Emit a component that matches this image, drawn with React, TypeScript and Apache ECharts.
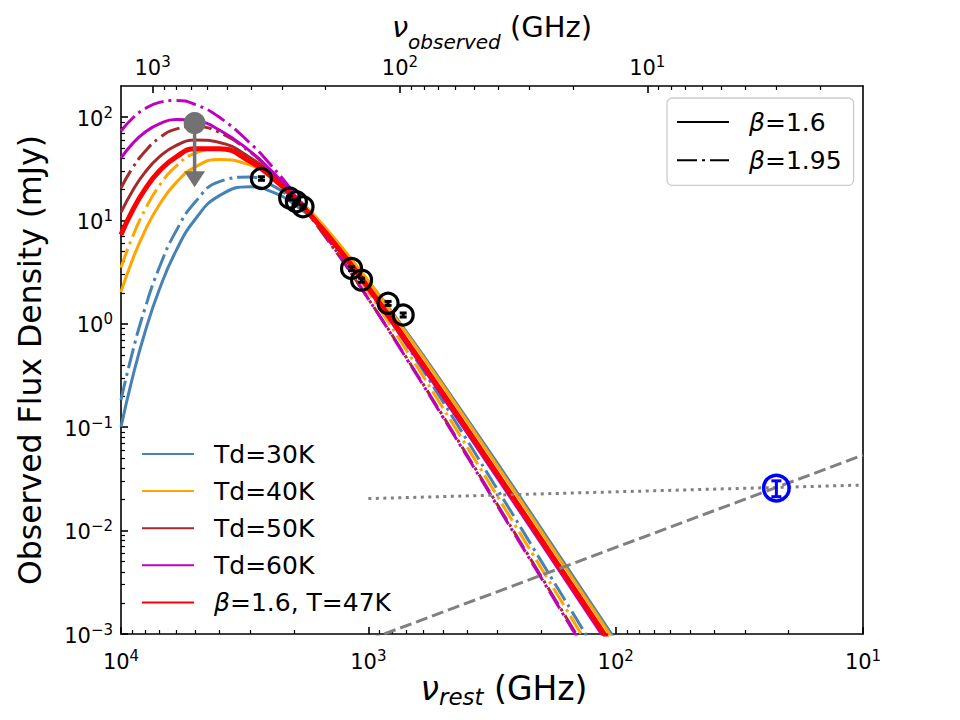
import React, { useEffect, useRef } from "react";
import * as echarts from "echarts";

const FONT = "DejaVu Sans";
const ONE_PLUS_Z = 7.45;

// rest-frame frequencies (GHz) at which the curves are read
const restFreq = [10000, 9000, 8000, 7000, 6000, 5000, 4000, 3000, 2500, 2000, 1500, 1000, 700, 500, 300, 200, 150, 100, 80];

// flux density (mJy) of each model curve at restFreq
const td30b160 = [0.1007, 0.2975, 0.83, 2.15, 5.05, 10.35, 17.4, 21.2, 19.3, 14.4, 7.91, 2.59, 0.83, 0.265, 0.0444, 0.01047, 0.00373, 0.000871, 0.00039];
const td30b195 = [0.183, 0.525, 1.41, 3.51, 7.85, 15.2, 23.8, 26.3, 22.5, 15.6, 7.76, 2.2, 0.624, 0.1775, 0.0248, 0.00507, 0.001637, 0.000331, 0.000137];
const td40b160 = [2.03, 4.14, 7.95, 14.2, 23.1, 33.0, 39.0, 34.3, 27.0, 17.6, 8.66, 2.6, 0.807, 0.2536, 0.0419, 0.00983, 0.0035, 0.000816, 0.000366];
const td40b195 = [3.5, 6.87, 12.7, 21.7, 33.4, 44.9, 49.1, 39.1, 28.8, 17.4, 7.74, 2.02, 0.553, 0.1545, 0.02131, 0.00434, 0.0014, 0.000283, 0.0001175];
const td50b160 = [11.97, 19.2, 29.2, 41.2, 53.0, 60.0, 56.8, 40.4, 28.9, 17.3, 7.95, 2.26, 0.685, 0.2133, 0.0349, 0.00818, 0.00292, 0.000679, 0.000304];
const td50b195 = [20.6, 32.0, 46.5, 62.9, 76.5, 81.3, 71.1, 45.8, 30.7, 17.1, 7.07, 1.748, 0.467, 0.1292, 0.0177, 0.0036, 0.00116, 0.000234, 0.000097];
const td60b160 = [40.1, 55.1, 71.3, 86.1, 94.7, 92.0, 75.0, 46.6, 31.3, 17.8, 7.78, 2.14, 0.637, 0.1967, 0.032, 0.0075, 0.00267, 0.000621, 0.000279];
const td60b195 = [73.4, 97.0, 120.6, 138.9, 144.9, 132.0, 99.5, 55.8, 35.2, 18.5, 7.31, 1.744, 0.459, 0.1259, 0.01717, 0.00349, 0.00112, 0.000227, 0.000094];
const t47b160 = [7.28, 12.4, 20.0, 30.1, 41.1, 49.4, 49.4, 37.1, 27.2, 16.7, 7.79, 2.25, 0.684, 0.2135, 0.035, 0.00822, 0.00293, 0.000682, 0.000305];

// measured photometry (rest GHz, mJy)
const dataRest = [2706, 2080, 1954, 1837, 1169, 1065, 832, 723];
const dataFlux = [25.5, 16.5, 15.2, 13.6, 3.44, 2.65, 1.58, 1.22];
const dataErr = [1.0, 0.7, 0.6, 0.55, 0.15, 0.12, 0.07, 0.055];

// upper limit
const limitRest = [5040];
const limitFlux = [87.5];
const limitEnd = [25];

// radio point
const radioRest = [22.4];
const radioFlux = [0.0258];
const radioErr = [0.0045];

// power-law lines
const dottedRest = [1000, 10];
const dottedFlux = [0.0204, 0.0276];
const dashedRest = [1000, 10];
const dashedFlux = [0.000877, 0.0538];

// tick exponents
const restTicks = [1, 2, 3, 4];
const obsTicks = [1, 2, 3];
const fluxTicks = [-3, -2, -1, 0, 1, 2];

const lg = Math.log10;
const pts = (xs: number[], ys: number[]) => xs.map((x, i) => [lg(x), lg(ys[i])]);

const X_MIN = 1;
const X_MAX = 4;
const Y_MIN = -3;
const Y_MAX = lg(200);
const LZ = lg(ONE_PLUS_Z);

function minorTicks(lo: number, hi: number) {
  const out: number[] = [];
  for (let n = Math.floor(lo) - 1; n <= Math.ceil(hi); n++) {
    for (let k = 2; k <= 9; k++) {
      const v = n + lg(k);
      if (v > lo + 1e-6 && v < hi - 1e-6) out.push(v);
    }
  }
  return out;
}

const supLabel = (v: number) => {
  const e = Math.round(v);
  const s = e < 0 ? "\u2212" + Math.abs(e) : String(e);
  return `{b|10}{s|${s}}`;
};

const tickRich = {
  b: { fontFamily: FONT, fontSize: 21, color: "#000", lineHeight: 24, verticalAlign: "bottom" },
  s: { fontFamily: FONT, fontSize: 15, color: "#000", lineHeight: 14, verticalAlign: "top" },
};

const nameRich = (size: number, subSize: number, lh: number, subLh: number) => ({
  i: { fontFamily: FONT, fontSize: size, fontStyle: "italic", color: "#000", lineHeight: lh, verticalAlign: "top" },
  sub: { fontFamily: FONT, fontSize: subSize, fontStyle: "italic", color: "#000", lineHeight: subLh, verticalAlign: "bottom" },
  t: { fontFamily: FONT, fontSize: size, color: "#000", lineHeight: lh, verticalAlign: "top" },
});

const majorTick = (vals: number[]) => ({
  show: true,
  inside: true,
  length: 7,
  lineStyle: { color: "#000", width: 1.6 },
  customValues: vals,
});
const minorTick = (vals: number[]) => ({
  show: true,
  inside: true,
  length: 4,
  lineStyle: { color: "#000", width: 1.2 },
  customValues: vals,
});
const spine = { show: true, onZero: false, lineStyle: { color: "#000", width: 1.6 } };
const noLine = { show: false, onZero: false };

const DASHDOT = [20, 5, 3, 5];

const curve = (name: string, vals: number[], color: string, dashed: boolean, width = 3) => ({
  type: "line",
  name,
  data: pts(restFreq, vals),
  xAxisIndex: 0,
  yAxisIndex: 0,
  showSymbol: false,
  symbol: "none",
  smooth: 0.5,
  clip: true,
  silent: true,
  lineStyle: { color, width, type: dashed ? DASHDOT : "solid", cap: "butt" },
  itemStyle: { color },
});

const legendRich = {
  g: { width: 15, fontSize: 25, lineHeight: 30 },
  i: { fontFamily: FONT, fontSize: 25, fontStyle: "italic", color: "#000", lineHeight: 30 },
  r: { fontFamily: FONT, fontSize: 25, color: "#000", lineHeight: 30 },
};
const legendFmt = (name: string) =>
  name.startsWith("β") ? `{g| }{i|β}{r|${name.slice(1)}}` : `{g| }{r|${name}}`;

const GRAY = "#727272";

const errorBarSeries = (rest: number[], flux: number[], err: number[], color: string, half: number, lw: number) => ({
  type: "custom",
  xAxisIndex: 0,
  yAxisIndex: 0,
  silent: true,
  z: 6,
  encode: { x: 0, y: [1, 2] },
  data: rest.map((f, i) => [lg(f), lg(flux[i] - err[i]), lg(flux[i] + err[i])]),
  renderItem: (_params: any, api: any) => {
    const top = api.coord([api.value(0), api.value(2)]);
    const bot = api.coord([api.value(0), api.value(1)]);
    const style = { stroke: color, lineWidth: lw, fill: null };
    return {
      type: "group",
      children: [
        { type: "line", shape: { x1: top[0], y1: top[1], x2: bot[0], y2: bot[1] }, style },
        { type: "line", shape: { x1: top[0] - half, y1: top[1], x2: top[0] + half, y2: top[1] }, style },
        { type: "line", shape: { x1: bot[0] - half, y1: bot[1], x2: bot[0] + half, y2: bot[1] }, style },
      ],
    };
  },
});

const option: any = {
  animation: false,
  backgroundColor: "#ffffff",
  textStyle: { fontFamily: FONT },
  grid: { left: 121, top: 86, width: 742, height: 548, containLabel: false, outerBoundsMode: "none" },
  xAxis: [
    {
      type: "value",
      position: "bottom",
      min: X_MIN,
      max: X_MAX,
      inverse: true,
      axisLine: spine,
      axisTick: majorTick(restTicks),
      axisLabel: { show: true, customValues: restTicks, formatter: supLabel, margin: 14, rich: tickRich },
      splitLine: { show: false },
      name: "{i|ν}{sub|rest}{t| (GHz)}",
      nameLocation: "middle",
      nameGap: 38,
      nameMoveOverlap: false,
      nameTextStyle: { rich: nameRich(33, 23, 36, 22), padding: [0, 0, 0, 24] },
    },
    {
      type: "value",
      position: "bottom",
      min: X_MIN,
      max: X_MAX,
      inverse: true,
      axisLine: noLine,
      axisTick: minorTick(minorTicks(X_MIN, X_MAX)),
      axisLabel: { show: false },
      splitLine: { show: false },
    },
    {
      type: "value",
      position: "top",
      min: X_MIN - LZ,
      max: X_MAX - LZ,
      inverse: true,
      axisLine: spine,
      axisTick: majorTick(obsTicks),
      axisLabel: { show: true, customValues: obsTicks, formatter: supLabel, margin: 8, rich: tickRich },
      splitLine: { show: false },
      name: "{i|ν}{sub|observed}{t| (GHz)}",
      nameLocation: "middle",
      nameGap: 34,
      nameMoveOverlap: false,
      nameTextStyle: { rich: nameRich(29, 20, 40, 23) },
    },
    {
      type: "value",
      position: "top",
      min: X_MIN - LZ,
      max: X_MAX - LZ,
      inverse: true,
      axisLine: noLine,
      axisTick: minorTick(minorTicks(X_MIN - LZ, X_MAX - LZ)),
      axisLabel: { show: false },
      splitLine: { show: false },
    },
  ],
  yAxis: [
    {
      type: "value",
      position: "left",
      min: Y_MIN,
      max: Y_MAX,
      axisLine: spine,
      axisTick: majorTick(fluxTicks),
      axisLabel: { show: true, customValues: fluxTicks, formatter: supLabel, margin: 8, rich: tickRich },
      splitLine: { show: false },
      name: "Observed Flux Density (mJy)",
      nameLocation: "middle",
      nameGap: 75,
      nameMoveOverlap: false,
      nameTextStyle: { fontFamily: FONT, fontSize: 31.5, color: "#000" },
    },
    {
      type: "value",
      position: "left",
      min: Y_MIN,
      max: Y_MAX,
      axisLine: noLine,
      axisTick: minorTick(minorTicks(Y_MIN, Y_MAX)),
      axisLabel: { show: false },
      splitLine: { show: false },
    },
    {
      type: "value",
      position: "right",
      min: Y_MIN,
      max: Y_MAX,
      axisLine: spine,
      axisTick: { show: false },
      axisLabel: { show: false },
      splitLine: { show: false },
    },
  ],
  legend: [
    {
      orient: "vertical",
      left: 141,
      top: 439,
      padding: 0,
      itemGap: 7.1,
      itemWidth: 52,
      itemHeight: 14,
      selectedMode: false,
      data: ["Td=30K", "Td=40K", "Td=50K", "Td=60K", "β=1.6, T=47K"],
      formatter: legendFmt,
      itemStyle: { opacity: 0 },
      textStyle: { fontFamily: FONT, fontSize: 25, color: "#000", lineHeight: 30, rich: legendRich },
    },
    {
      orient: "vertical",
      left: 667,
      top: 98,
      padding: [9, 12, 10, 9],
      itemGap: 8.3,
      itemWidth: 52,
      itemHeight: 14,
      selectedMode: false,
      backgroundColor: "#ffffff",
      borderColor: "#cccccc",
      borderWidth: 1.3,
      borderRadius: 5,
      data: ["β=1.6", "β=1.95"],
      formatter: legendFmt,
      itemStyle: { opacity: 0 },
      textStyle: { fontFamily: FONT, fontSize: 25, color: "#000", lineHeight: 30, rich: legendRich },
    },
  ],
  series: [
    curve("Td=30K", td30b160, "#4682b4", false),
    curve("Td=30K dd", td30b195, "#4682b4", true),
    curve("Td=40K", td40b160, "#ffa500", false),
    curve("Td=40K dd", td40b195, "#ffa500", true),
    curve("Td=50K", td50b160, "#a52a2a", false),
    curve("Td=50K dd", td50b195, "#a52a2a", true),
    curve("Td=60K", td60b160, "#bf00bf", false),
    curve("Td=60K dd", td60b195, "#bf00bf", true),
    curve("β=1.6, T=47K", t47b160, "#ff0000", false, 5),
    { type: "line", name: "β=1.6", data: [], symbol: "none", lineStyle: { color: "#000", width: 3 }, itemStyle: { color: "#000" } },
    { type: "line", name: "β=1.95", data: [], symbol: "none", lineStyle: { color: "#000", width: 3, type: DASHDOT }, itemStyle: { color: "#000" } },
    {
      type: "line",
      name: "dotted",
      data: pts(dottedRest, dottedFlux),
      symbol: "none",
      silent: true,
      clip: true,
      lineStyle: { color: "#808080", width: 3, type: [3, 4.5] },
    },
    {
      type: "line",
      name: "dashed",
      data: pts(dashedRest, dashedFlux),
      symbol: "none",
      silent: true,
      clip: true,
      lineStyle: { color: "#808080", width: 3, type: [12, 5] },
    },
    errorBarSeries(dataRest, dataFlux, dataErr, "#000", 3.5, 3),
    {
      type: "scatter",
      name: "data",
      data: pts(dataRest, dataFlux),
      symbol: "circle",
      symbolSize: 20,
      silent: true,
      z: 7,
      itemStyle: { color: "rgba(0,0,0,0)", borderColor: "#000", borderWidth: 3.2, opacity: 1 },
    },
    {
      type: "line",
      name: "limit shaft",
      data: [...pts(limitRest, limitFlux), ...pts(limitRest, limitEnd)],
      symbol: "none",
      silent: true,
      z: 7,
      lineStyle: { color: GRAY, width: 3.5, opacity: 1 },
    },
    {
      type: "scatter",
      name: "limit head",
      data: pts(limitRest, limitEnd),
      symbol: "triangle",
      symbolRotate: 180,
      symbolSize: [21, 16],
      silent: true,
      z: 8,
      itemStyle: { color: GRAY, opacity: 1 },
    },
    {
      type: "scatter",
      name: "limit point",
      data: pts(limitRest, limitFlux),
      symbol: "circle",
      symbolSize: 22,
      silent: true,
      z: 8,
      itemStyle: { color: GRAY, opacity: 1 },
    },
    errorBarSeries(radioRest, radioFlux, radioErr, "#0000ff", 5, 3),
    {
      type: "scatter",
      name: "radio",
      data: pts(radioRest, radioFlux),
      symbol: "circle",
      symbolSize: 25.5,
      silent: true,
      z: 7,
      itemStyle: { color: "rgba(0,0,0,0)", borderColor: "#0000ff", borderWidth: 3.5, opacity: 1 },
    },
  ],
};

export default function App() {
  const ref = useRef<HTMLDivElement>(null);
  useEffect(() => {
    if (!ref.current) return;
    const chart = echarts.init(ref.current, undefined, { renderer: "svg" });
    chart.setOption(option);
    return () => chart.dispose();
  }, []);
  return (
    <div
      ref={ref}
      style={{ position: "fixed", left: 0, top: 0, width: 960, height: 720, background: "#fff" }}
    />
  );
}
